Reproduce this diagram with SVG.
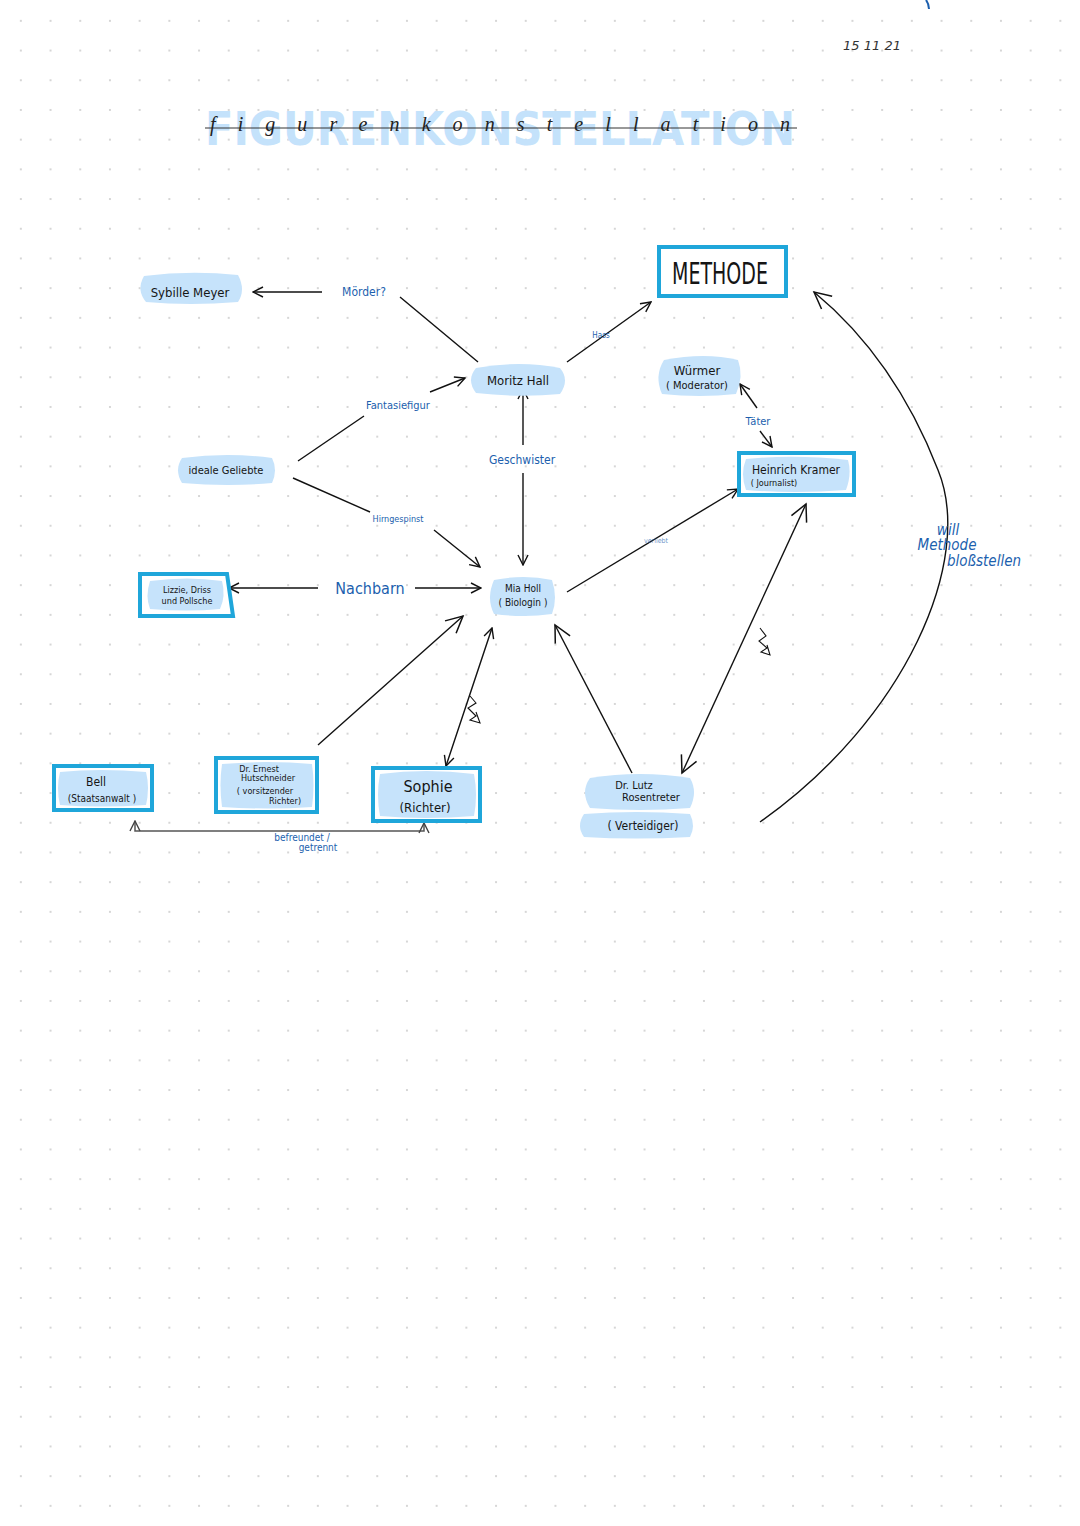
<svg xmlns="http://www.w3.org/2000/svg" width="1080" height="1526" viewBox="0 0 1080 1526">
<defs>
<pattern id="dots" patternUnits="userSpaceOnUse" x="6" y="6" width="29.7" height="29.7">
<circle cx="14.85" cy="14.85" r="1" fill="#c9c9c9"/>
</pattern>
<marker id="ah" viewBox="0 0 12 12" refX="11" refY="6" markerWidth="12" markerHeight="12" markerUnits="userSpaceOnUse" orient="auto-start-reverse">
<path d="M1,1 L11,6 L1,11" fill="none" stroke="#111" stroke-width="1.4"/>
</marker>
<marker id="ahb" viewBox="0 0 12 12" refX="11" refY="6" markerWidth="20" markerHeight="20" markerUnits="userSpaceOnUse" orient="auto-start-reverse">
<path d="M1,1 L11,6 L1,11" fill="none" stroke="#111" stroke-width="0.9"/>
</marker>
<marker id="ahg" viewBox="0 0 12 12" refX="11" refY="6" markerWidth="12" markerHeight="12" markerUnits="userSpaceOnUse" orient="auto-start-reverse">
<path d="M1,1 L11,6 L1,11" fill="none" stroke="#444" stroke-width="1.4"/>
</marker>
</defs>
<style>
.bg{fill:url(#dots)}
.blob{fill:#c6e3fb}
.box{fill:#ffffff;stroke:#1fa6da;stroke-width:4}
.t{font-family:"DejaVu Sans Condensed","DejaVu Sans",sans-serif;fill:#151515;text-anchor:middle}
.lb{font-family:"DejaVu Sans Condensed","DejaVu Sans",sans-serif;fill:#1c5fae;text-anchor:middle}
.c{fill:none;stroke:#111;stroke-width:1.4}
</style>
<rect width="1080" height="1526" fill="#ffffff"/>
<rect width="1080" height="1526" class="bg"/>

<g id="title">
<text x="500" y="145" font-family="DejaVu Sans" font-weight="bold" font-size="46" fill="#c4e2fb" text-anchor="middle" textLength="590" lengthAdjust="spacingAndGlyphs">FIGURENKONSTELLATION</text>
<line x1="205" y1="128" x2="797" y2="128" stroke="#333" stroke-width="1"/>
<text x="500" y="131" font-family="Liberation Serif" font-style="italic" font-size="20" fill="#222" text-anchor="middle" textLength="580" lengthAdjust="spacing">figurenkonstellation</text>
</g>
<g id="date">
<text x="872" y="50" font-family="DejaVu Sans" font-style="italic" font-size="13" fill="#333" text-anchor="middle">15 11 21</text>
<path d="M926,0 Q929,4 929,9" fill="none" stroke="#1c5fae" stroke-width="2"/>
</g>

<g id="connectors">
<line class="c" x1="322" y1="292" x2="253" y2="292" marker-end="url(#ah)"/>
<line class="c" x1="400" y1="297" x2="478" y2="362"/>
<line class="c" x1="567" y1="362" x2="651" y2="302" marker-end="url(#ah)"/>
<line class="c" x1="298" y1="461" x2="364" y2="416"/>
<line class="c" x1="430" y1="392" x2="465" y2="378" marker-end="url(#ah)"/>
<line class="c" x1="293" y1="478" x2="370" y2="512"/>
<line class="c" x1="434" y1="530" x2="480" y2="567" marker-end="url(#ah)"/>
<line class="c" x1="523" y1="445" x2="523" y2="389" marker-end="url(#ah)"/>
<line class="c" x1="523" y1="473" x2="523" y2="565" marker-end="url(#ah)"/>
<line class="c" x1="318" y1="588" x2="229" y2="588" marker-end="url(#ah)"/>
<line class="c" x1="415" y1="588" x2="481" y2="588" marker-end="url(#ah)"/>
<line class="c" x1="567" y1="592" x2="738" y2="489" marker-end="url(#ah)"/>
<line class="c" x1="757" y1="408" x2="740" y2="384" marker-end="url(#ah)"/>
<line class="c" x1="760" y1="431" x2="772" y2="447" marker-end="url(#ah)"/>
<line class="c" stroke-width="1.1" x1="806" y1="504" x2="682" y2="773" marker-start="url(#ahb)" marker-end="url(#ahb)"/>
<line class="c" stroke-width="1.1" x1="632" y1="773" x2="555" y2="625" marker-end="url(#ahb)"/>
<line class="c" stroke-width="1.1" x1="318" y1="745" x2="463" y2="616" marker-end="url(#ahb)"/>
<line class="c" stroke-width="1.1" x1="446" y1="766" x2="492" y2="628" marker-start="url(#ah)" marker-end="url(#ah)"/>
<path class="c" stroke-width="1.1" d="M760,822 C905,720 975,560 938,470 C905,385 860,330 814,292" marker-end="url(#ahb)"/>
<path d="M135,821 L135,831 L424,831 L424,823" fill="none" stroke="#555" stroke-width="1.5" marker-start="url(#ahg)" marker-end="url(#ahg)"/>
<path d="M470,696 L476,703 L468,708 L476,716 L470,720 L480,723 L476,712" fill="none" stroke="#111" stroke-width="1.1"/>
<path d="M760,628 L766,636 L759,641 L767,648 L761,652 L770,655 L767,645" fill="none" stroke="#111" stroke-width="1.1"/>
</g>

<g id="labels">
<text class="lb" x="364" y="296" font-size="12">Mörder?</text>
<text class="lb" x="601" y="338" font-size="8">Hass</text>
<text class="lb" x="398" y="409" font-size="11">Fantasiefigur</text>
<text class="lb" x="522" y="464" font-size="12">Geschwister</text>
<text class="lb" x="398" y="522" font-size="9">Hirngespinst</text>
<text class="lb" x="370" y="594" font-size="16">Nachbarn</text>
<text class="lb" x="656" y="543" font-size="7" fill-opacity="0.7">verliebt</text>
<text class="lb" x="758" y="425" font-size="11">Täter</text>
<text class="lb" x="302" y="841" font-size="10">befreundet /</text>
<text class="lb" x="318" y="851" font-size="10">getrennt</text>
<text class="lb" x="948" y="535" font-size="15" font-style="italic">will</text>
<text class="lb" x="947" y="550" font-size="15" font-style="italic">Methode</text>
<text class="lb" x="984" y="566" font-size="15" font-style="italic">bloßstellen</text>
</g>

<g id="sybille">
<path class="blob" d="M144,276 Q190,270 238,275 Q246,290 238,302 Q190,306 146,302 Q136,290 144,276 Z"/>
<text class="t" x="190" y="297" font-size="13">Sybille Meyer</text>
</g>
<g id="moritz">
<path class="blob" d="M476,368 Q520,360 560,368 Q570,380 560,394 Q520,398 476,393 Q466,380 476,368 Z"/>
<text class="t" x="518" y="385" font-size="13">Moritz Hall</text>
</g>
<g id="methode">
<rect class="box" x="659" y="247" width="127" height="49"/>
<text class="t" x="720" y="284" font-size="31" font-family="DejaVu Sans Condensed" font-weight="200" textLength="96" lengthAdjust="spacingAndGlyphs">METHODE</text>
</g>
<g id="wuermer">
<path class="blob" d="M664,360 Q705,352 738,360 Q744,376 736,394 Q700,398 662,394 Q654,376 664,360 Z"/>
<text class="t" x="697" y="375" font-size="13">Würmer</text>
<text class="t" x="697" y="389" font-size="11">( Moderator)</text>
</g>
<g id="kramer">
<rect class="box" x="739" y="453" width="115" height="42"/>
<path class="blob" d="M746,459 Q795,454 848,460 Q852,474 846,490 Q795,494 746,490 Q740,474 746,459 Z"/>
<text class="t" x="796" y="474" font-size="12">Heinrich Kramer</text>
<text class="t" x="774" y="486" font-size="9">( Journalist)</text>
</g>
<g id="ideale">
<path class="blob" d="M182,458 Q228,452 272,458 Q278,470 272,483 Q228,487 182,483 Q174,470 182,458 Z"/>
<text class="t" x="226" y="474" font-size="11">ideale Geliebte</text>
</g>
<g id="mia">
<path class="blob" d="M494,580 Q524,574 552,580 Q558,598 552,614 Q524,618 494,614 Q486,598 494,580 Z"/>
<text class="t" x="523" y="592" font-size="10">Mia Holl</text>
<text class="t" x="523" y="606" font-size="10">( Biologin )</text>
</g>
<g id="lizzie">
<path d="M140,574 L227,574 L233,616 L140,616 Z" fill="#fff" stroke="#1fa6da" stroke-width="4"/>
<path class="blob" d="M150,581 Q188,576 222,581 Q226,596 220,609 Q188,612 150,609 Q145,596 150,581 Z"/>
<text class="t" x="187" y="593" font-size="9">Lizzie, Driss</text>
<text class="t" x="187" y="604" font-size="9">und Pollsche</text>
</g>
<g id="bell">
<rect class="box" x="54" y="766" width="98" height="44"/>
<path class="blob" d="M60,772 Q100,768 146,772 Q150,788 146,805 Q100,808 60,805 Q56,788 60,772 Z"/>
<text class="t" x="96" y="786" font-size="12">Bell</text>
<text class="t" x="102" y="802" font-size="10">(Staatsanwalt )</text>
</g>
<g id="hutschneider">
<rect class="box" x="216" y="758" width="101" height="54"/>
<path class="blob" d="M222,764 Q268,760 312,764 Q315,785 312,807 Q268,810 222,807 Q219,785 222,764 Z"/>
<text class="t" x="259" y="772" font-size="9">Dr. Ernest</text>
<text class="t" x="268" y="781" font-size="9">Hutschneider</text>
<text class="t" x="265" y="794" font-size="9">( vorsitzender</text>
<text class="t" x="285" y="804" font-size="9">Richter)</text>
</g>
<g id="sophie">
<rect class="box" x="373" y="768" width="107" height="53"/>
<path class="blob" d="M380,774 Q426,768 474,774 Q478,795 474,816 Q426,820 380,816 Q376,795 380,774 Z"/>
<text class="t" x="428" y="792" font-size="16">Sophie</text>
<text class="t" x="425" y="812" font-size="13">(Richter)</text>
</g>
<g id="lutz">
<path class="blob" d="M590,778 Q640,770 690,778 Q698,792 690,808 Q640,812 590,808 Q580,792 590,778 Z"/>
<path class="blob" d="M584,814 Q636,810 690,814 Q696,826 690,837 Q636,840 584,837 Q576,826 584,814 Z"/>
<text class="t" x="634" y="789" font-size="11">Dr. Lutz</text>
<text class="t" x="651" y="801" font-size="11">Rosentreter</text>
<text class="t" x="643" y="830" font-size="12">( Verteidiger)</text>
</g>
</svg>
